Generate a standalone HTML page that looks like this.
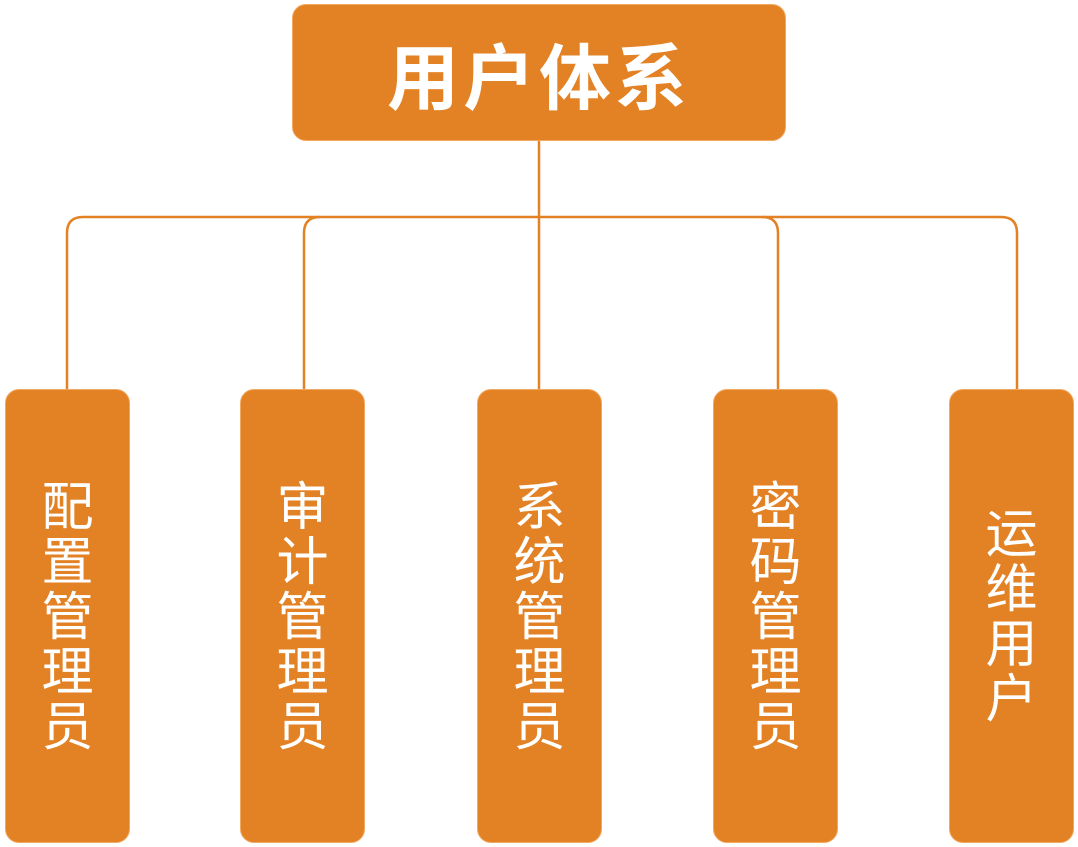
<!DOCTYPE html>
<html><head><meta charset="utf-8"><style>
html,body{margin:0;padding:0;background:#fff;width:1078px;height:847px;overflow:hidden;position:relative}
.b{position:absolute;background:#E38224;border:1.5px solid #F2A860;box-sizing:border-box;border-radius:14px;color:#fff;font-family:"Liberation Sans","Noto Sans CJK SC",sans-serif}
.v{top:389px;width:125px;height:454px;display:flex;align-items:center;justify-content:center;font-size:52px;line-height:55px;text-align:center;padding-top:4px}
.v span{display:block;width:55px}
</style></head><body>
<svg width="1078" height="847" style="position:absolute;left:0;top:0">
<g fill="none" stroke="#E38224" stroke-width="2.5">
<line x1="539" y1="140" x2="539" y2="390"/>
<path d="M67 390 V233 Q67 217 83 217 H1001 Q1017 217 1017 233 V390"/>
<path d="M304 390 V233 Q304 217 320 217"/>
<path d="M778 390 V233 Q778 217 762 217"/>
</g>
</svg>
<div class="b" style="left:292px;top:4px;width:494px;height:137px;display:flex;align-items:center;justify-content:center;font-size:72px;font-weight:bold;letter-spacing:4px">用户体系</div>
<div class="b v" style="left:5px"><span>配置管理员</span></div>
<div class="b v" style="left:240px"><span>审计管理员</span></div>
<div class="b v" style="left:477px"><span>系统管理员</span></div>
<div class="b v" style="left:713px"><span>密码管理员</span></div>
<div class="b v" style="left:949px"><span>运维用户</span></div>
</body></html>
